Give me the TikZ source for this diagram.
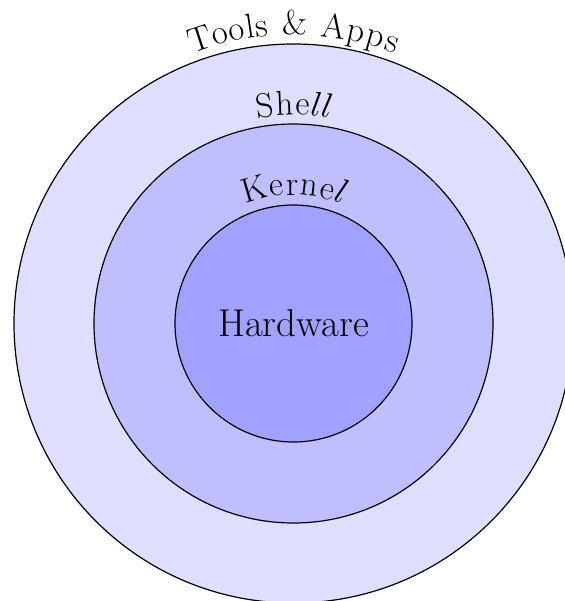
\documentclass[tikz,border=0pt]{standalone}
\usetikzlibrary{calc}
\newcommand\arcword[4]{%
  \gdef\acum{0}%
  \foreach \ch/\w in {#4}{%
    \pgfmathsetmacro\ang{90+deg((#3/2-(\acum+\w/2))/#2)}%
    \node[letter, rotate=\ang-90] at ($(#1)+(\ang:#2pt)$) {\ch};
    \pgfmathsetmacro\tmpcum{\acum+\w}\xdef\acum{\tmpcum}%
  }}
\begin{document}
\begin{tikzpicture}[
  ring/.style={draw=black, line width=0.6pt},
  letter/.style={anchor=base, inner sep=0pt, font=\LARGE}
]
\useasboundingbox (0pt,0pt) rectangle (282.5pt,-300.5pt);
\clip (0pt,0pt) rectangle (282.5pt,-300.5pt);
\fill[white] (0pt,0pt) rectangle (282.5pt,-300.5pt);
\coordinate (c) at (146.75pt,-161.75pt);
\draw[ring, fill=blue!13] (c) circle[radius=139.75pt];
\draw[ring, fill=blue!25] (c) circle[radius=99.75pt];
\draw[ring, fill=blue!37] (c) circle[radius=59.25pt];
\node[font=\fontsize{19.4}{24}\selectfont, anchor=base] (hw) at ($(c)+(0,-6.5pt)$) {Hardware};
\arcword{c}{144.25}{104.0}{T/12.48,o/7.34,o/8.64,l/4.80,s/6.81,{}/5.76,{\&}/13.44,{}/5.76,A/12.96,p/9.60,p/9.60,s/6.81}
\arcword{c}{104.25}{37.19}{S/9.61,h/9.61,e/7.67,{$l$}/5.15,{$l$}/5.15}
\arcword{c}{64.25}{50.31}{K/13.44,e/7.67,r/6.77,n/9.61,e/7.67,{$l$}/5.15}
\end{tikzpicture}
\end{document}
